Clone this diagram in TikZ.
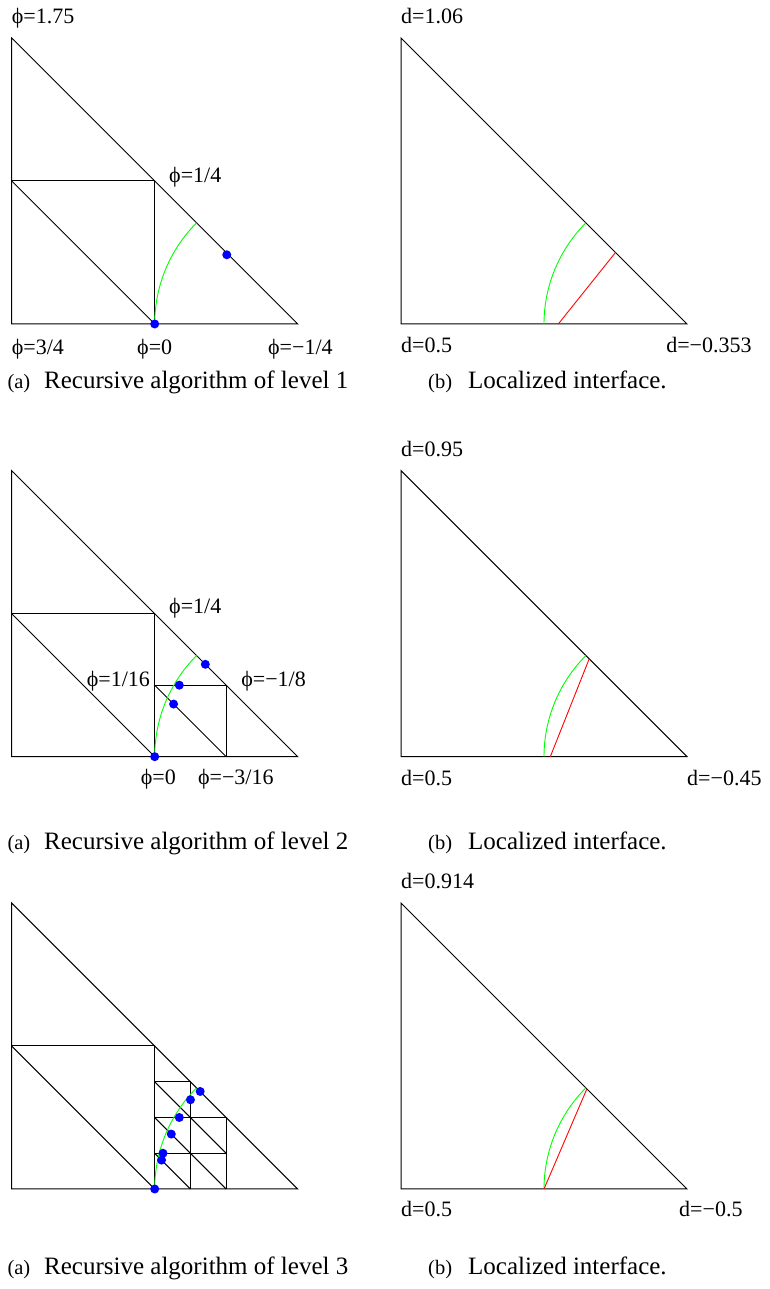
\documentclass[tikz,border=0pt]{standalone}
\usepackage{fontspec}
\setmainfont{Liberation Serif}

\newcommand*{\leg}{286pt}
\newcommand*{\colL}{11.7pt}
\newcommand*{\colR}{401pt}
\newcommand*{\rowA}{965pt}
\newcommand*{\rowB}{532.3pt}
\newcommand*{\rowC}{100pt}

\begin{document}
\begin{tikzpicture}
[
	x=1pt,y=1pt,
	edge/.style={line width=1pt},
	iface/.style={green,line width=0.9pt},
	cut/.style={red,line width=0.9pt},
	zeropt/.style={circle,fill=blue,inner sep=0pt,minimum size=9pt},
	lbl/.style={font=\fontsize{22}{24}\selectfont,inner sep=0pt},
	subtag/.style={font=\fontsize{20.5}{22}\selectfont,inner sep=0pt,anchor=base west},
	captxt/.style={font=\fontsize{25}{28}\selectfont,inner sep=0pt,anchor=base west}
]

	\useasboundingbox (0,0) rectangle (769,1289);

	% level 1, recursive
	\begin{scope}[shift={(\colL,\rowA)},x=\leg,y=\leg]
		\coordinate (a1o) at (0,0);
		\coordinate (a1r) at (1,0);
		\coordinate (a1t) at (0,1);
		\draw[edge] (a1o) -- (a1r) -- (a1t) -- cycle;
		\draw[edge] (0,0.5) -- (0.5,0.5) -- (0.5,0);
		\draw[edge] (0,0.5) -- (0.5,0);
		\draw[iface] (0.5,0) arc[start angle=180,end angle=135,radius=143pt];
		\node[zeropt] (a1z1) at (0.5,0) {};
		\node[zeropt] (a1z2) at (0.752,0.242) {};
		\node[lbl,anchor=base west] (a1top) at (0,1.052) {ϕ=1.75};
		\node[lbl,anchor=base west] (a1mid) at (0.55,0.495) {ϕ=1/4};
		\node[lbl,anchor=base west] (a1bl) at (0,-0.108) {ϕ=3/4};
		\node[lbl,anchor=base] (a1bm) at (0.5,-0.108) {ϕ=0};
		\node[lbl,anchor=base west] (a1br) at (0.896,-0.108) {ϕ=−1/4};
	\end{scope}

	% level 1, interface
	\begin{scope}[shift={(\colR,\rowA)},x=\leg,y=\leg]
		\coordinate (b1o) at (0,0);
		\coordinate (b1r) at (1,0);
		\coordinate (b1t) at (0,1);
		\draw[edge] (b1o) -- (b1r) -- (b1t) -- cycle;
		\draw[iface] (0.5,0) arc[start angle=180,end angle=135,radius=143pt];
		\coordinate (b1c1) at (0.55,0);
		\coordinate (b1c2) at (0.75,0.25);
		\draw[cut] (b1c1) -- (b1c2);
		\node[lbl,anchor=base west] (b1top) at (0,1.052) {d=1.06};
		\node[lbl,anchor=base west] (b1bl) at (0,-0.101) {d=0.5};
		\node[lbl,anchor=base west] (b1br) at (0.927,-0.101) {d=−0.353};
	\end{scope}

	% level 2, recursive
	\begin{scope}[shift={(\colL,\rowB)},x=\leg,y=\leg]
		\coordinate (a2o) at (0,0);
		\coordinate (a2r) at (1,0);
		\coordinate (a2t) at (0,1);
		\draw[edge] (a2o) -- (a2r) -- (a2t) -- cycle;
		\draw[edge] (0,0.5) -- (0.5,0.5) -- (0.5,0);
		\draw[edge] (0,0.5) -- (0.5,0);
		\draw[edge] (0.5,0.25) -- (0.75,0.25) -- (0.75,0);
		\draw[edge] (0.5,0.25) -- (0.75,0);
		\draw[iface] (0.5,0) arc[start angle=180,end angle=135,radius=143pt];
		\node[zeropt] (a2z1) at (0.5,0) {};
		\node[zeropt] (a2z2) at (0.677,0.323) {};
		\node[zeropt] (a2z3) at (0.586,0.25) {};
		\node[zeropt] (a2z4) at (0.566,0.184) {};
		\node[lbl,anchor=base west] (a2mid) at (0.55,0.502) {ϕ=1/4};
		\node[lbl,anchor=base east] (a2in) at (0.484,0.247) {ϕ=1/16};
		\node[lbl,anchor=base west] (a2out) at (0.802,0.247) {ϕ=−1/8};
		\node[lbl,anchor=base] (a2bm) at (0.513,-0.096) {ϕ=0};
		\node[lbl,anchor=base west] (a2br) at (0.651,-0.096) {ϕ=−3/16};
	\end{scope}

	% level 2, interface
	\begin{scope}[shift={(\colR,\rowB)},x=\leg,y=\leg]
		\coordinate (b2o) at (0,0);
		\coordinate (b2r) at (1,0);
		\coordinate (b2t) at (0,1);
		\draw[edge] (b2o) -- (b2r) -- (b2t) -- cycle;
		\draw[iface] (0.5,0) arc[start angle=180,end angle=135,radius=143pt];
		\coordinate (b2c1) at (0.522,0);
		\coordinate (b2c2) at (0.658,0.342);
		\draw[cut] (b2c1) -- (b2c2);
		\node[lbl,anchor=base west] (b2top) at (0,1.051) {d=0.95};
		\node[lbl,anchor=base west] (b2bl) at (0,-0.099) {d=0.5};
		\node[lbl,anchor=base west] (b2br) at (1.0,-0.099) {d=−0.45};
	\end{scope}

	% level 3, recursive
	\begin{scope}[shift={(\colL,\rowC)},x=\leg,y=\leg]
		\coordinate (a3o) at (0,0);
		\coordinate (a3r) at (1,0);
		\coordinate (a3t) at (0,1);
		\draw[edge] (a3o) -- (a3r) -- (a3t) -- cycle;
		\draw[edge] (0,0.5) -- (0.5,0.5) -- (0.5,0);
		\draw[edge] (0,0.5) -- (0.5,0);
		\draw[edge] (0.5,0.375) -- (0.625,0.375) -- (0.625,0);
		\draw[edge] (0.5,0.25) -- (0.75,0.25) -- (0.75,0);
		\draw[edge] (0.5,0.125) -- (0.75,0.125);
		\draw[edge] (0.5,0.125) -- (0.625,0);
		\draw[edge] (0.5,0.25) -- (0.75,0);
		\draw[edge] (0.5,0.375) -- (0.75,0.125);
		\draw[iface] (0.5,0) arc[start angle=180,end angle=135,radius=143pt];
		\node[zeropt] (a3z1) at (0.5,0) {};
		\node[zeropt] (a3z2) at (0.659,0.341) {};
		\node[zeropt] (a3z3) at (0.625,0.312) {};
		\node[zeropt] (a3z4) at (0.586,0.25) {};
		\node[zeropt] (a3z5) at (0.558,0.192) {};
		\node[zeropt] (a3z6) at (0.529,0.125) {};
		\node[zeropt] (a3z7) at (0.524,0.101) {};
	\end{scope}

	% level 3, interface
	\begin{scope}[shift={(\colR,\rowC)},x=\leg,y=\leg]
		\coordinate (b3o) at (0,0);
		\coordinate (b3r) at (1,0);
		\coordinate (b3t) at (0,1);
		\draw[edge] (b3o) -- (b3r) -- (b3t) -- cycle;
		\draw[iface] (0.5,0) arc[start angle=180,end angle=135,radius=143pt];
		\coordinate (b3c1) at (0.5,0);
		\coordinate (b3c2) at (0.65,0.35);
		\draw[cut] (b3c1) -- (b3c2);
		\node[lbl,anchor=base west] (b3top) at (0,1.051) {d=0.914};
		\node[lbl,anchor=base west] (b3bl) at (0,-0.097) {d=0.5};
		\node[lbl,anchor=base west] (b3br) at (0.972,-0.097) {d=−0.5};
	\end{scope}

	% captions
	\node[subtag] (capa1) at (7.3,900) {(a)};
	\node[captxt] (capa1t) at (44,900) {Recursive algorithm of level 1};
	\node[subtag] (capb1) at (428,900) {(b)};
	\node[captxt] (capb1t) at (468,900) {Localized interface.};

	\node[subtag] (capa2) at (7.3,439.7) {(a)};
	\node[captxt] (capa2t) at (44,439.7) {Recursive algorithm of level 2};
	\node[subtag] (capb2) at (428,439.7) {(b)};
	\node[captxt] (capb2t) at (468,439.7) {Localized interface.};

	\node[subtag] (capa3) at (7.3,14) {(a)};
	\node[captxt] (capa3t) at (44,14) {Recursive algorithm of level 3};
	\node[subtag] (capb3) at (428,14) {(b)};
	\node[captxt] (capb3t) at (468,14) {Localized interface.};

\end{tikzpicture}
\end{document}
